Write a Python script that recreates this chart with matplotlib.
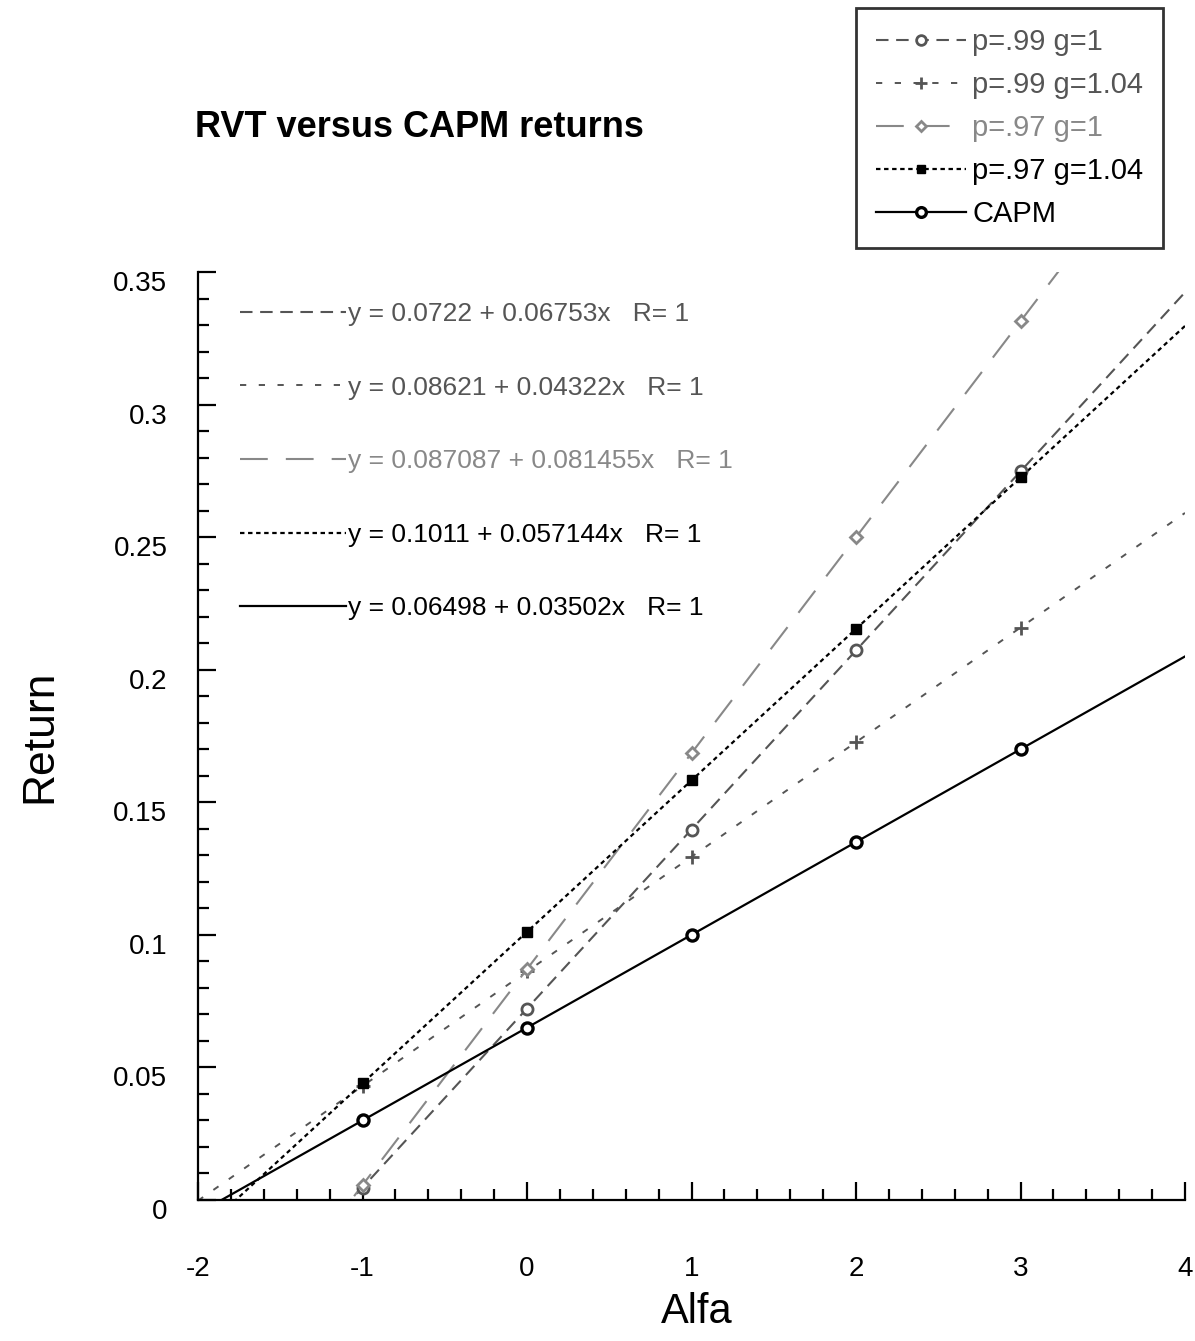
import numpy as np
import matplotlib
matplotlib.use('Agg')
import matplotlib.pyplot as plt
import matplotlib.transforms as mtransforms
from matplotlib.lines import Line2D
from matplotlib.ticker import MultipleLocator, FormatStrFormatter

plt.rcParams['font.family'] = ['Liberation Sans', 'DejaVu Sans']
plt.rcParams['lines.scale_dashes'] = False
plt.rcParams['axes.unicode_minus'] = False

# values
alfa = np.array([-1, 0, 1, 2, 3])
p99_g1 = [0.0047, 0.0722, 0.1397, 0.2073, 0.2748]
p99_g104 = [0.0430, 0.0862, 0.1294, 0.1727, 0.2159]
p97_g1 = [0.0056, 0.0871, 0.1685, 0.2500, 0.3314]
p97_g104 = [0.0440, 0.1011, 0.1583, 0.2154, 0.2725]
capm = [0.0300, 0.0650, 0.1000, 0.1350, 0.1700]

names = ['p=.99 g=1', 'p=.99 g=1.04', 'p=.97 g=1', 'p=.97 g=1.04', 'CAPM']
fit_labels = ['y = 0.0722 + 0.06753x   R= 1',
              'y = 0.08621 + 0.04322x   R= 1',
              'y = 0.087087 + 0.081455x   R= 1',
              'y = 0.1011 + 0.057144x   R= 1',
              'y = 0.06498 + 0.03502x   R= 1']
series = [p99_g1, p99_g104, p97_g1, p97_g104, capm]

# look of each series
colors = ['#555555', '#555555', '#888888', '#000000', '#000000']
dashes = [(0, (9, 5.5)), (0, (4.5, 9)), (0, (20, 13)), (0, (3.2, 2.6)), '-']
widths = [1.5, 1.4, 1.5, 1.6, 1.6]
markers = ['o', '+', 'D', 's', 'o']
msizes = [8, 10, 6, 7, 8]
medges = [2, 2, 2, 1, 2.4]
mfaces = ['white', 'none', 'white', 'black', 'white']

W, H = 1195, 1341
fig = plt.figure(figsize=(W / 100, H / 100), dpi=100)
ax = fig.add_axes([198 / W, 1 - 1200 / H, (1185 - 198) / W, (1200 - 272) / H])

xr = np.array([-2.0, 4.0])
fit_handles = []
key_handles = []
for i, vals in enumerate(series):
    k = np.polyfit(alfa, vals, 1)
    ln, = ax.plot(xr, np.polyval(k, xr), color=colors[i], ls=dashes[i],
                  lw=widths[i], zorder=2)
    fit_handles.append(ln)
    ax.plot(alfa, vals, ls='none', marker=markers[i], ms=msizes[i],
            mfc=mfaces[i], mec=colors[i], mew=medges[i], zorder=3)
    key_handles.append(Line2D([], [], color=colors[i], ls=dashes[i], lw=widths[i],
                              marker=markers[i], ms=msizes[i] - 1, mfc=mfaces[i],
                              mec=colors[i], mew=medges[i]))

ax.set_xlim(-2, 4)
ax.set_ylim(0, 0.35)
ax.xaxis.set_major_locator(MultipleLocator(1))
ax.xaxis.set_minor_locator(MultipleLocator(0.2))
ax.yaxis.set_major_locator(MultipleLocator(0.05))
ax.yaxis.set_minor_locator(MultipleLocator(0.01))
ax.yaxis.set_major_formatter(FormatStrFormatter('%g'))
ax.tick_params(which='major', direction='in', length=13, width=1.6, labelsize=20)
ax.tick_params(which='minor', direction='in', length=8, width=1.6)
ax.tick_params(axis='x', pad=40)
ax.tick_params(axis='y', pad=22)
for s in ['top', 'right']:
    ax.spines[s].set_visible(False)
for s in ['left', 'bottom']:
    ax.spines[s].set_linewidth(1.6)

# y tick labels sit a little below their ticks in the original
shift = mtransforms.ScaledTranslation(0, -9 / 100, fig.dpi_scale_trans)
for lab in ax.get_yticklabels():
    lab.set_transform(lab.get_transform() + shift)

# equation key inside the plot
ax.legend(fit_handles, fit_labels, loc='upper left',
          bbox_to_anchor=(240 / W, 1 - 302 / H), bbox_transform=fig.transFigure,
          frameon=False, fontsize=19, handlelength=4, handletextpad=0.1,
          labelspacing=1.88, borderpad=0, borderaxespad=0, labelcolor='linecolor')

# boxed legend at top right
leg = fig.legend(key_handles, names, loc='upper left',
                 bbox_to_anchor=(856 / W, 1 - 8 / H), fontsize=21, numpoints=1,
                 handlelength=3.1, handletextpad=0.2, labelspacing=0.52,
                 borderpad=0.68, borderaxespad=0, fancybox=False,
                 labelcolor='linecolor')
leg.get_frame().set_edgecolor('black')
leg.get_frame().set_linewidth(2)

fig.text(195 / W, 1 - 137 / H, 'RVT versus CAPM returns', fontsize=26,
         fontweight='bold', va='baseline', ha='left')
fig.text(697 / W, 1 - 1312 / H, 'Alfa', fontsize=30, ha='center', va='center')
fig.text(40 / W, 1 - 736 / H, 'Return', fontsize=32, ha='center', va='center',
         rotation=90)

fig.savefig('out.png', dpi=100)
